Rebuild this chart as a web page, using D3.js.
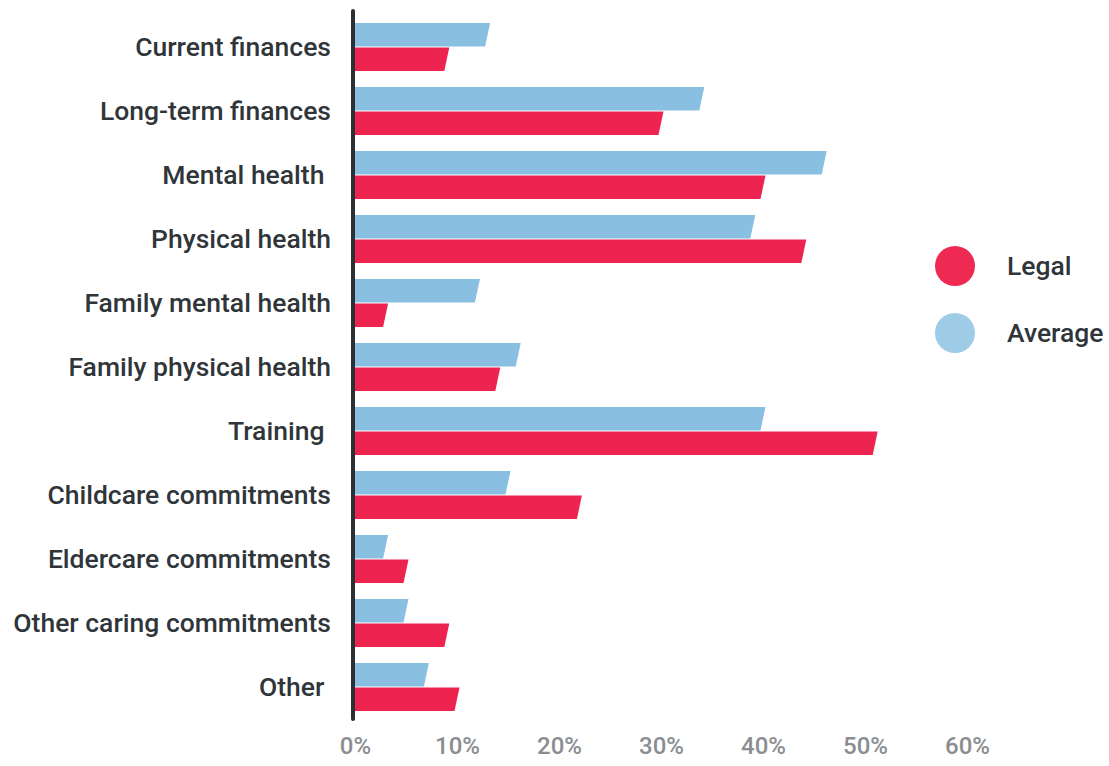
<!DOCTYPE html>
<html>
<head>
<meta charset="utf-8">
<script src="https://cdn.jsdelivr.net/npm/d3@7"></script>
<style>
  body { margin: 0; background: #fff; }
  text { font-family: Roboto, "Noto Sans", sans-serif; }
</style>
</head>
<body>
<div id="chart"></div>
<script>
let categories = ["Current finances", "Long-term finances", "Mental health ", "Physical health",
    "Family mental health", "Family physical health", "Training ", "Childcare commitments",
    "Eldercare commitments", "Other caring commitments", "Other "];
let series = ["Average", "Legal"];
let averageValues = [13, 34, 46, 39, 12, 16, 40, 15, 3, 5, 7];
let legalValues = [9, 30, 40, 44, 3, 14, 51, 22, 5, 9, 10];
let tickValues = [0, 10, 20, 30, 40, 50, 60];

let colors = { Average: '#89c0e2', Legal: '#ee2450' };
let legendColors = { Legal: '#ee2a52', Average: '#9ecbe6' };

let width = 1109, height = 766;

let svg = d3.select('#chart').append('svg')
    .attr('width', width)
    .attr('height', height)

let xScale = d3.scaleLinear()
    .domain([0, 60])
    .range([355, 967])

let yScale = d3.scaleBand()
    .domain(categories)
    .range([15, 719])
    .paddingInner(0.25)
    .paddingOuter(0.125)

let subScale = d3.scaleBand()
    .domain(series)
    .range([0, yScale.bandwidth()])
    .paddingInner(0.05)

let rows = categories.map(function (c, i) {
    return [
        { cat: c, key: 'Average', value: averageValues[i] },
        { cat: c, key: 'Legal', value: legalValues[i] }
    ];
});

// bars with a slanted right end
let slant = 5;
svg.append('g').selectAll('g').data(rows)
    .enter().append('g')
    .selectAll('path').data(function (d) { return d; })
    .enter().append('path')
    .attr('d', function (d) {
        let y0 = yScale(d.cat) + subScale(d.key);
        let y1 = y0 + subScale.bandwidth();
        let x0 = xScale(0);
        let x1 = xScale(d.value);
        return 'M' + x0 + ',' + y0 + 'L' + (x1 + slant / 2) + ',' + y0 +
            'L' + (x1 - slant / 2) + ',' + y1 + 'L' + x0 + ',' + y1 + 'Z';
    })
    .style('fill', function (d) { return colors[d.key]; })

// category labels
svg.append('g').selectAll('text').data(categories)
    .enter().append('text')
    .attr('x', 331)
    .attr('y', function (d) { return yScale(d) + yScale.bandwidth() / 2; })
    .attr('dy', '0.35em')
    .attr('text-anchor', 'end')
    .style('white-space', 'pre')
    .style('font-size', '26.5px')
    .style('font-weight', 500)
    .style('fill', '#30353a')
    .text(function (d) { return d; })

// vertical axis line
svg.append('line')
    .attr('x1', 353).attr('x2', 353)
    .attr('y1', 11).attr('y2', 719)
    .style('stroke', '#2b3034')
    .style('stroke-width', 4)
    .style('stroke-linecap', 'round')

// bottom axis
let hAxis = d3.axisBottom(xScale)
    .tickValues(tickValues)
    .tickSize(0)
    .tickFormat(function (d) { return d + '%'; })

let horizontalGuide = svg.append('g')
    .attr('transform', 'translate(0, 734)')
hAxis(horizontalGuide)
horizontalGuide.select('.domain').remove()
horizontalGuide.selectAll('text')
    .style('font-family', 'Roboto, "Noto Sans", sans-serif')
    .style('font-size', '24px')
    .style('font-weight', 500)
    .style('fill', '#8b8e91')

// legend
let legendItems = ['Legal', 'Average'];
let legend = svg.append('g').selectAll('g').data(legendItems)
    .enter().append('g')
    .attr('transform', function (d, i) { return 'translate(955, ' + (266 + i * 67) + ')'; })

legend.append('circle')
    .attr('r', 20)
    .style('fill', function (d) { return legendColors[d]; })

legend.append('text')
    .attr('x', 52)
    .attr('dy', '0.35em')
    .style('font-size', '26.5px')
    .style('font-weight', 500)
    .style('fill', '#30353a')
    .text(function (d) { return d; })
</script>
</body>
</html>
